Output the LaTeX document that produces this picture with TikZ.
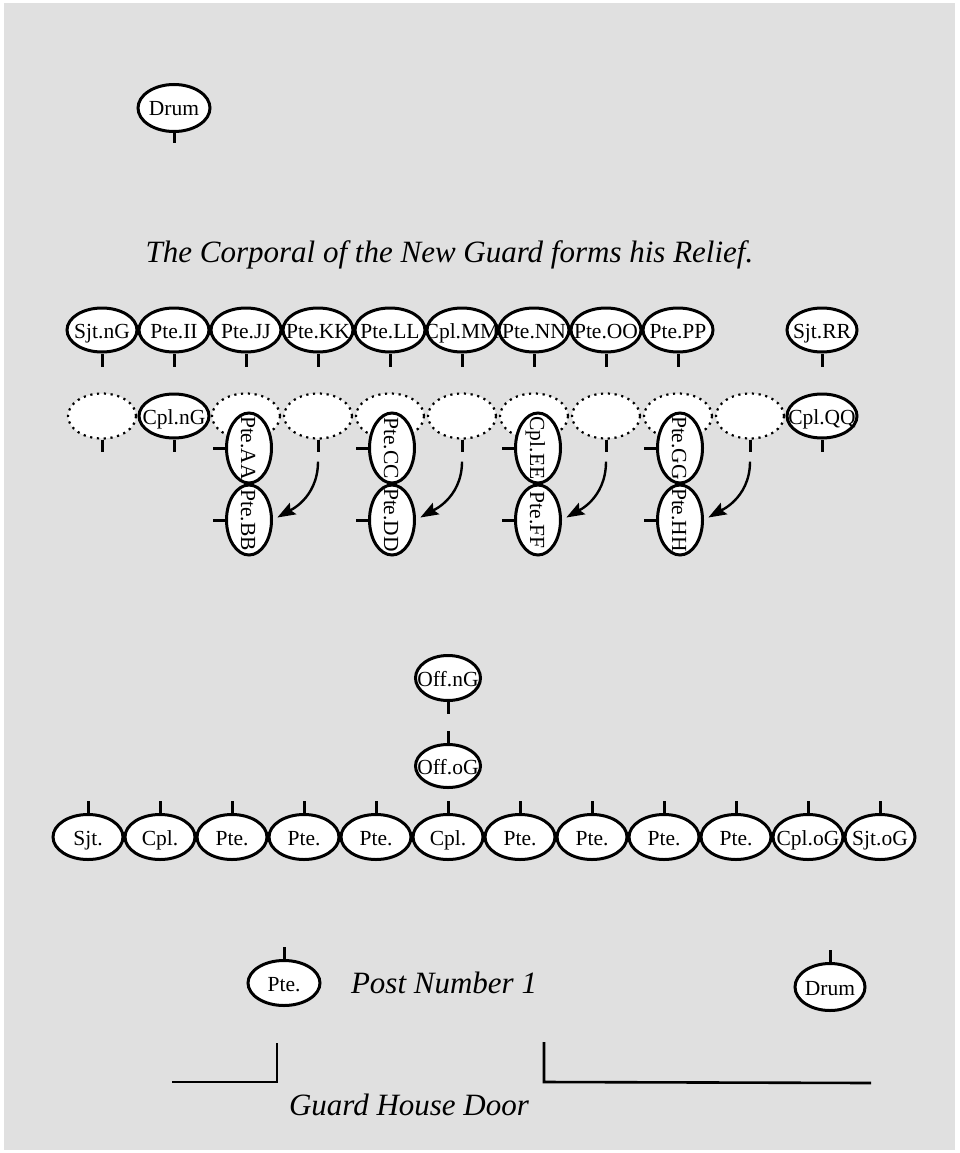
\documentclass[tikz,border=0pt]{standalone}
\usepackage{fontspec}
\setmainfont{Liberation Serif}
\usetikzlibrary{shapes.geometric,arrows.meta,calc}
\definecolor{bggray}{HTML}{E0E0E0}
\newcommand\zlab[1]{\makebox[0pt]{#1}}
\begin{document}
\begin{tikzpicture}[x=1pt,y=-1pt,
  soldier/.style={ellipse,draw,fill=white,line width=3pt,inner sep=0pt,
    minimum width=70pt,minimum height=44pt,font=\fontsize{21.5}{24}\selectfont,
    text height=18pt,text depth=2pt},
  emptypos/.style={ellipse,draw,fill=white,line width=2.2pt,
    dash pattern=on 2.2pt off 4.6pt,minimum width=68pt,minimum height=45pt,inner sep=0pt},
  vsoldier/.style={soldier,rotate=-90,minimum width=70pt,minimum height=45pt},
  tick/.style={line width=3pt},
  move/.style={line width=2.4pt,-{Stealth[length=18pt,width=13pt,inset=3pt]},shorten >=5pt},
  caption/.style={font=\fontsize{31}{36}\selectfont\itshape,anchor=base,inner sep=0pt},
  wall/.style={line width=2.6pt}
]
\fill[white] (0,0) rectangle (959,1153);
\fill[bggray] (4,3) rectangle (955,1150);
\useasboundingbox (0,0) rectangle (959,1153);

% top drum
\node[soldier,minimum width=72pt,minimum height=47pt] (drumA) at (174,108) {\zlab{Drum}};
\draw[tick] (drumA.south) -- ++(0,10);

% title
\node[caption] (title) at (449.5,262) {The Corporal of the New Guard forms his Relief.};

% new guard top row
\foreach \i/\t in {0/Sjt.nG,1/Pte.II,2/Pte.JJ,3/Pte.KK,4/Pte.LL,5/Cpl.MM,6/Pte.NN,7/Pte.OO,8/Pte.PP,10/Sjt.RR}{
  \node[soldier] (t\i) at ({102+72*\i},330) {\zlab{\t}};
  \draw[tick] (t\i.south) -- ++(0,13);
}

% second row: empty positions
\foreach \i in {0,2,3,4,5,6,7,8,9}{
  \node[emptypos] (e\i) at ({102+72*\i},416) {};
}
\node[soldier] (s1) at (174,416) {\zlab{Cpl.nG}};
\node[soldier] (s10) at (822,416) {\zlab{Cpl.QQ}};
\foreach \n in {e0,e3,e5,e7,e9,s1,s10}{
  \draw[tick] (\n.south) -- ++(0,12);
}

% old guard sentries filing out (rotated)
\foreach \x/\a/\b/\ta/\tb in {249/AA/BB/Pte.AA/Pte.BB,392/CC/DD/Pte.CC/Pte.DD,538/EE/FF/Cpl.EE/Pte.FF,680/GG/HH/Pte.GG/Pte.HH}{
  \node[vsoldier] (\a) at (\x,448) {\zlab{\ta}};
  \node[vsoldier] (\b) at (\x,520) {\zlab{\tb}};
  \draw[tick] (\a.south) -- ++(-12,0);
  \draw[tick] (\b.south) -- ++(-12,0);
}

% movement arrows
\foreach \e/\t in {e3/BB,e5/DD,e7/FF,e9/HH}{
  \coordinate (a\e) at ($(\e.south)+(0,22)$);
  \draw[move] (a\e) .. controls +(0,38) and +(14,-8) .. (\t.north);
}

% officers
\node[soldier,minimum width=65pt,minimum height=45pt] (offN) at (448,678) {\zlab{Off.nG}};
\draw[tick] (offN.south) -- ++(0,12);
\node[soldier,minimum width=65pt,minimum height=43pt] (offO) at (448,766) {\zlab{Off.oG}};
\draw[tick] (offO.north) -- ++(0,-12);

% old guard bottom row
\foreach \i/\t in {0/Sjt.,1/Cpl.,2/Pte.,3/Pte.,4/Pte.,5/Cpl.,6/Pte.,7/Pte.,8/Pte.,9/Pte.,10/Cpl.oG,11/Sjt.oG}{
  \node[soldier,minimum height=45pt] (b\i) at ({88+72*\i},837) {\zlab{\t}};
  \draw[tick] (b\i.north) -- ++(0,-12);
}

% post number 1
\node[soldier,minimum width=72pt,minimum height=45pt] (post) at (284,983) {\zlab{Pte.}};
\draw[tick] (post.north) -- ++(0,-12);
\node[caption] (postlab) at (444,993) {Post Number 1};

\node[soldier,minimum width=70pt,minimum height=47pt] (drumB) at (830,987) {\zlab{Drum}};
\draw[tick] (drumB.north) -- ++(0,-12);

% guard house
\draw[wall] (172,1082) -- (277,1082) -- (277,1043);
\draw[wall] (544,1042) -- (544,1082) -- (871,1083);
\node[caption] (door) at (409,1115) {Guard House Door};
\end{tikzpicture}
\end{document}
